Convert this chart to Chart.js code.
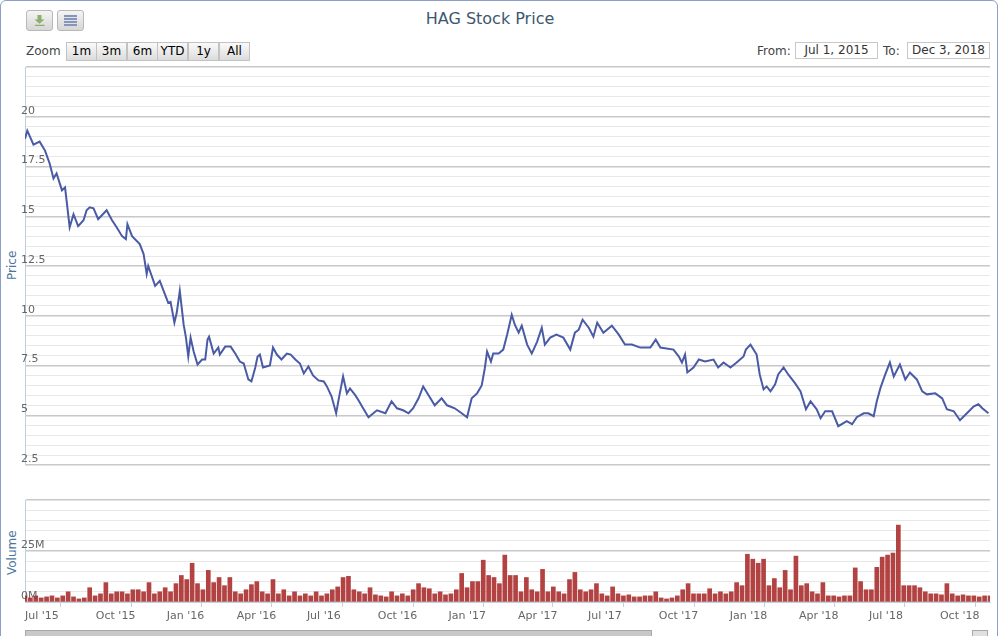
<!DOCTYPE html>
<html>
<head>
<meta charset="utf-8">
<script src="https://cdn.jsdelivr.net/npm/chart.js@4"></script>
<style>
  body { margin: 0; width: 1000px; height: 636px; overflow: hidden; background: #fff; font-family: "DejaVu Sans", sans-serif; }
  #frame { position: absolute; left: 0; top: 0; width: 996px; height: 640px; border: 1px solid #8c9fc9; border-radius: 6px; }
  .abs { position: absolute; }
  .icon { width: 25px; height: 19px; border: 1px solid #b8b8b8; border-radius: 3px; background: linear-gradient(#f4f4f4, #d6d6d6); }
  .btn { top: 42px; height: 17px; width: 29px; border: 1px solid #c2c2c2; background: linear-gradient(#fafafa, #dcdcdc); font-size: 12px; line-height: 17px; text-align: center; color: #000; }
  .box { top: 42px; height: 15px; border: 1px solid #c8c8c8; font-size: 12px; line-height: 15px; text-align: center; color: #333; background: #fff; }
  .lbl { font-size: 12px; color: #444; }
  .axt { font-size: 12px; color: #4d759e; transform: rotate(-90deg); transform-origin: left top; }
</style>
</head>
<body>
<div id="frame"></div>
<div class="abs icon" style="left:26px;top:10px;"><div style="width:10px;height:11px;margin:4px auto;background:#8fae6b;clip-path:polygon(30% 0,70% 0,70% 40%,100% 40%,50% 80%,0 40%,30% 40%,30% 0,0 88%,100% 88%,100% 100%,0 100%,0 88%,30% 0);"></div></div>
<div class="abs icon" style="left:57px;top:10px;"><div style="width:13px;height:11px;margin:4px auto;background:repeating-linear-gradient(#8796b8 0 2px,#dfe3ec 2px 3px);"></div></div>
<div class="abs" style="left:0;width:980px;top:9px;text-align:center;font-size:16px;color:#3e576f;">HAG Stock Price</div>
<div class="abs lbl" style="left:26px;top:44px;">Zoom</div>
<div class="abs btn" style="left:66px;">1m</div>
<div class="abs btn" style="left:96px;">3m</div>
<div class="abs btn" style="left:127px;">6m</div>
<div class="abs btn" style="left:157px;">YTD</div>
<div class="abs btn" style="left:188px;">1y</div>
<div class="abs btn" style="left:219px;">All</div>
<div class="abs lbl" style="left:757px;top:44px;">From:</div>
<div class="abs box" style="left:795px;width:81px;">Jul 1, 2015</div>
<div class="abs lbl" style="left:883px;top:44px;">To:</div>
<div class="abs box" style="left:907px;width:81px;">Dec 3, 2018</div>
<div class="abs axt" style="left:5px;top:280px;">Price</div>
<div class="abs axt" style="left:5px;top:575px;">Volume</div>
<div class="abs" style="left:25px;top:630px;width:625px;height:6px;background:#c8c8c8;border:1px solid #a8a8a8;"></div>
<div class="abs" style="left:972px;top:630px;width:14px;height:6px;background:#e0e0e0;border:1px solid #a8a8a8;"></div>
<canvas id="price" class="abs" style="left:0;top:60px;" width="1000" height="410"></canvas>
<canvas id="volume" class="abs" style="left:0;top:495px;" width="1000" height="141"></canvas>
<script>
// days counted from Jul 1, 2015
const priceDays = [0,3,11,19,26,32,37,41,48,52,58,63,69,76,80,84,89,95,106,113,119,126,131,133,139,149,154,158,160,169,175,180,186,189,194,197,201,206,209,212,215,219,224,230,234,237,239,245,251,253,260,267,273,279,284,290,294,299,302,305,309,318,322,327,333,340,345,351,357,362,368,374,381,388,392,398,404,408,
  413,418,422,429,433,439,446,457,468,476,483,491,498,504,511,517,524,532,541,548,558,567,574,580,587,593,597,600,605,608,615,621,626,632,636,641,645,652,658,665,671,675,682,690,699,708,714,719,724,732,738,743,751,762,771,779,788,799,812,819,
  825,842,849,853,857,860,868,875,883,894,900,907,916,924,933,936,942,950,954,959,963,968,974,978,985,991,1000,1007,1014,1020,1028,1033,1039,1048,1056,1067,1074,1080,1089,1095,1102,1106,1111,1117,1123,1128,1136,1143,1149,1158,1165,1171,1182,1191,1197,1206,1214,1223,1232,1238,1243,1251];
const priceValues = [18.9,19.3,18.6,18.75,18.3,17.65,16.9,17.15,16.3,16.45,14.45,15.1,14.5,14.8,15.3,15.45,15.4,14.85,15.3,14.8,14.45,14.0,13.85,14.6,14.0,13.6,13.1,12.1,12.5,11.5,11.75,11.25,10.65,10.7,9.65,10.15,11.25,9.55,8.9,7.95,8.9,8.2,7.55,7.8,7.8,8.8,8.95,8.1,8.4,8.05,8.45,8.45,8.1,7.7,7.6,6.8,6.7,7.4,7.95,8.05,7.4,7.5,8.4,8.05,7.8,8.1,8.05,7.8,7.6,7.1,7.45,7.0,6.75,6.7,6.45,5.95,5.1,5.95,
  6.95,6.1,6.35,6.0,5.75,5.35,4.9,5.25,5.1,5.7,5.35,5.25,5.1,5.35,5.85,6.45,6.0,5.5,5.85,5.5,5.35,5.1,4.9,5.85,6.1,6.5,7.35,8.2,7.7,8.1,8.1,8.3,9.05,10.05,9.55,9.15,9.5,8.55,8.1,8.7,9.4,8.55,8.9,9.05,8.9,8.3,9.15,9.3,9.8,9.4,8.95,9.65,9.15,9.5,9.05,8.55,8.55,8.4,8.4,8.8,
  8.4,8.3,7.95,7.65,8.05,7.15,7.4,7.8,7.7,7.8,7.4,7.65,7.4,7.65,7.95,8.3,8.55,8.05,7.05,6.3,6.45,6.2,6.55,7.05,7.4,7.05,6.6,6.2,5.3,5.7,5.3,4.85,5.2,5.2,4.45,4.7,4.55,4.9,5.1,5.1,4.95,5.7,6.4,7.05,7.65,6.95,7.55,6.8,7.15,6.8,6.2,6.05,6.1,5.85,5.3,5.2,4.75,5.1,5.45,5.55,5.35,5.1];
// weekly volume in millions, one bar every 7 days from Jul 1, 2015
const volumeValues = [3,2,3,2,2.5,3,2,3,5,2.5,1.5,2,7,3,4,9.5,4,5,5,4,6,6,5,9.5,4,5,7,5,9,13,11,19,9,6,15.5,9.5,12,8,12,5,4,6,8.5,10,5,4,11,4,6,3,5,3,4,3,5,3,4,6,7.4,12,12.6,6,5,4,7,3.5,3,2.5,5,3,4,3,6,9,7,6.5,4,5,3.5,4,6,14,7,10,10,20.5,13,12,9,23,
  13,13,5,12,6,5,16,5,7.4,5,4,11,14.5,6,5,6,9,4,3,7.4,4,3,3.5,2.5,2.5,3,3,5,2,1.5,2,3,6,9,4,4,4,6.5,4,5,4,5,9.5,8,23.4,21,19,21,8,11.5,7,15.5,6,22.5,8,9,5,4,9.5,3,3,2.5,3,3,16.7,10,6,6,17,22,23,24,37.7,8,8,8,7,5,4,4,3.5,9,4,3,3.5,3,3,2.5,3,3];
const tickDays = [0,92,184,275,366,458,550,640,731,823,915,1005,1096,1188];
const tickLabels = ["Jul '15","Oct '15","Jan '16","Apr '16","Jul '16","Oct '16","Jan '17","Apr '17","Jul '17","Oct '17","Jan '18","Apr '18","Jul '18","Oct '18"];

const charts = {};
const dayMax = 1253;
const tickFont = { family: "DejaVu Sans", size: 11 };

charts.price = new Chart(document.getElementById("price").getContext("2d"), {
  type: "line",
  data: {
    datasets: [{
      data: priceDays.map((d, i) => ({ x: d, y: priceValues[i] })),
      borderColor: "#4a5ba6",
      borderWidth: 2,
      pointRadius: 0,
      tension: 0,
    }],
  },
  options: {
    responsive: false,
    animation: false,
    layout: { padding: { left: 25, right: 10, top: 7, bottom: 5 } },
    plugins: { legend: { display: false }, tooltip: { enabled: false } },
    scales: {
      x: { type: "linear", min: 0, max: dayMax, display: false },
      y: {
        min: 2.5, max: 22.5,
        afterFit: (s) => { s.width = 0; },
        border: { display: true, color: "#c0d0e0" },
        grid: {
          drawTicks: false,
          color: (c) => (c.tick && c.tick.value % 2.5 === 0 ? "#c8c8c8" : "#e8e8e8"),
          lineWidth: (c) => (c.tick && c.tick.value % 2.5 === 0 ? 1.5 : 1),
        },
        ticks: {
          stepSize: 0.5, mirror: true, padding: -4, labelOffset: -6,
          color: "#666", font: tickFont, autoSkip: false,
          callback: (v) => (v % 2.5 === 0 && v < 22 ? String(v) : ""),
        },
      },
    },
  },
});

charts.volume = new Chart(document.getElementById("volume").getContext("2d"), {
  type: "bar",
  data: {
    datasets: [{
      data: volumeValues.map((v, i) => ({ x: i * 7, y: v })),
      backgroundColor: "rgba(168,40,40,0.88)",
      barThickness: 4,
    }],
  },
  options: {
    responsive: false,
    animation: false,
    layout: { padding: { left: 25, right: 10, top: 5, bottom: 0 } },
    plugins: { legend: { display: false }, tooltip: { enabled: false } },
    scales: {
      x: {
        type: "linear", min: 0, max: dayMax, offset: false,
        afterFit: (s) => { s.height = 34; },
        afterBuildTicks: (s) => { s.ticks = tickDays.map((d) => ({ value: d })); },
        border: { display: true, color: "#c0d0e0" },
        grid: { drawOnChartArea: false, drawTicks: true, tickLength: 5, color: "#c0d0e0" },
        ticks: {
          autoSkip: false, maxRotation: 0, align: "start", color: "#666", font: tickFont, padding: 3,
          callback: (v) => tickLabels[tickDays.indexOf(v)],
        },
      },
      y: {
        min: 0, max: 50,
        afterFit: (s) => { s.width = 0; },
        border: { display: true, color: "#c0d0e0" },
        grid: {
          drawTicks: false,
          color: (c) => (c.tick && c.tick.value % 25 === 0 ? "#c8c8c8" : "#e8e8e8"),
          lineWidth: (c) => (c.tick && c.tick.value % 25 === 0 ? 1.5 : 1),
        },
        ticks: {
          stepSize: 5, mirror: true, padding: -4, labelOffset: -6,
          color: "#666", font: tickFont, autoSkip: false,
          callback: (v) => (v % 25 === 0 && v < 50 ? v + "M" : ""),
        },
      },
    },
  },
});
</script>
</body>
</html>
